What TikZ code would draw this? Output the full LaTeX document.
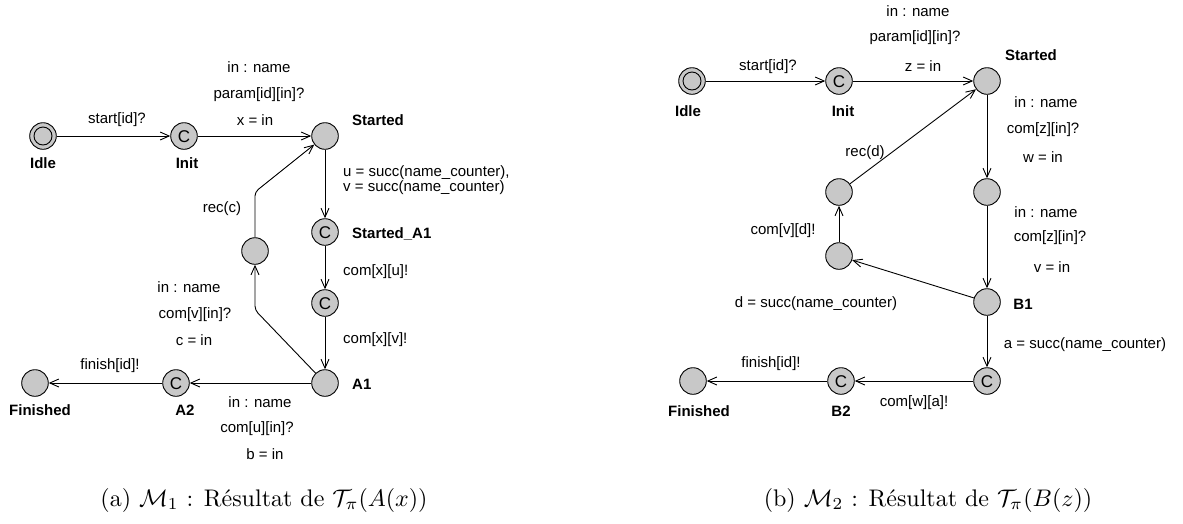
\documentclass[tikz,border=0pt]{standalone}
\usepackage{fontspec}
\newfontfamily\labfont{Liberation Sans}
\usetikzlibrary{arrows.meta}
\definecolor{stategray}{RGB}{200,200,200}
\tikzset{
  st/.style={circle, draw, line width=0.9pt, fill=stategray, minimum size=26.6pt, inner sep=0pt},
  comm/.style={st, font=\labfont\fontsize{17}{17}\selectfont, text height=12pt, text depth=0pt},
  lab/.style={font=\labfont\fontsize{15}{15}\selectfont, inner sep=0pt},
  blab/.style={font=\labfont\bfseries\fontsize{15}{15}\selectfont, inner sep=0pt},
  conn/.style={line width=0.9pt, -{Straight Barb[length=9pt,width=8pt,line width=0.9pt]}},
  captext/.style={scale=2.4, inner sep=0pt}
}
\begin{document}
\begin{tikzpicture}[x=1pt,y=-1pt]
\useasboundingbox (0,0) rectangle (1183,523);
% ---------- (a) ----------
\node[st] (idleA) at (43,136) {};
\draw[line width=0.9pt] (idleA.center) circle (9pt);
\node[comm] (initA) at (184,136) {C};
\node[st] (startedA) at (325,136) {};
\node[comm] (sa1) at (325,232) {C};
\node[comm] (c2) at (325,303) {C};
\node[st] (a1) at (325,383) {};
\node[st] (recA) at (255,251) {};
\node[comm] (a2) at (176,383) {C};
\node[st] (finA) at (35,383) {};
\coordinate (ka) at (255,310);
\coordinate (kb) at (255,192);

\draw[conn] (idleA) -- (initA);
\draw[conn] (initA) -- (startedA);
\draw[conn] (startedA) -- (sa1);
\draw[conn] (sa1) -- (c2);
\draw[conn] (c2) -- (a1);
\draw[conn] (a1) -- (a2);
\draw[conn] (a2) -- (finA);
\draw[conn, rounded corners=4pt] (a1) -- (ka) -- (recA);
\draw[conn, rounded corners=4pt] (recA) -- (kb) -- (startedA);

\node[blab] (lIdleA) at (43,163) {Idle};
\node[blab] (lInitA) at (187,163) {Init};
\node[blab, anchor=west] (lStartedA) at (352,120) {Started};
\node[blab, anchor=west] (lSA1) at (352,234) {Started\_A1};
\node[blab, anchor=west] (lA1) at (352,384) {A1};
\node[blab] (lA2) at (185,410) {A2};
\node[blab] (lFinA) at (40,410) {Finished};

\node[lab] (e1) at (117,120) {start[id]?};
\node[lab] (e2a) at (259,67) {in : name};
\node[lab] (e2b) at (259,95) {param[id][in]?};
\node[lab] (e2c) at (255,120) {x = in};
\node[lab, anchor=west, align=left, font=\labfont\fontsize{15}{13}\selectfont] (e3) at (343,180) {u = succ(name\_counter),\\v = succ(name\_counter)};
\node[lab] (e4) at (222,209) {rec(c)};
\node[lab, anchor=west] (e5) at (343,272) {com[x][u]!};
\node[lab, anchor=west] (e6) at (343,340) {com[x][v]!};
\node[lab] (e7a) at (189,287) {in : name};
\node[lab] (e7b) at (195,315) {com[v][in]?};
\node[lab] (e7c) at (194,340) {c = in};
\node[lab] (e8) at (110,366) {finish[id]!};
\node[lab] (e9a) at (260,402) {in : name};
\node[lab] (e9b) at (257,429) {com[u][in]?};
\node[lab] (e9c) at (265,454) {b = in};

% ---------- (b) ----------
\node[st] (idleB) at (692,81) {};
\draw[line width=0.9pt] (idleB.center) circle (9pt);
\node[comm] (initB) at (839,81) {C};
\node[st] (startedB) at (987,81) {};
\node[st] (n2) at (987,192) {};
\node[st] (b1) at (987,302) {};
\node[comm] (c3) at (987,381) {C};
\node[comm] (b2) at (841,381) {C};
\node[st] (finB) at (693,381) {};
\node[st] (recB) at (839,192) {};
\node[st] (lowB) at (839,256) {};

\draw[conn] (idleB) -- (initB);
\draw[conn] (initB) -- (startedB);
\draw[conn] (startedB) -- (n2);
\draw[conn] (n2) -- (b1);
\draw[conn] (b1) -- (c3);
\draw[conn] (c3) -- (b2);
\draw[conn] (b2) -- (finB);
\draw[conn] (b1) -- (lowB);
\draw[conn] (lowB) -- (recB);
\draw[conn] (recB) -- (startedB);

\node[blab] (lIdleB) at (688,111) {Idle};
\node[blab] (lInitB) at (843,111) {Init};
\node[blab, anchor=west] (lStartedB) at (1005,55) {Started};
\node[blab] (lB1) at (1023,304) {B1};
\node[blab] (lB2) at (841,411) {B2};
\node[blab] (lFinB) at (699,411) {Finished};

\node[lab] (f1) at (768,67) {start[id]?};
\node[lab] (f2a) at (918,11) {in : name};
\node[lab] (f2b) at (915,38) {param[id][in]?};
\node[lab] (f2c) at (923,66) {z = in};
\node[lab] (f3a) at (1046,102) {in : name};
\node[lab] (f3b) at (1043,130) {com[z][in]?};
\node[lab] (f3c) at (1043,157) {w = in};
\node[lab] (f4a) at (1046,212) {in : name};
\node[lab] (f4b) at (1050,238) {com[z][in]?};
\node[lab] (f4c) at (1052,267) {v = in};
\node[lab] (f5) at (865,153) {rec(d)};
\node[lab] (f6) at (783,231) {com[v][d]!};
\node[lab] (f7) at (816,304) {d = succ(name\_counter)};
\node[lab] (f8) at (1085,345) {a = succ(name\_counter)};
\node[lab] (f9) at (771,364) {finish[id]!};
\node[lab] (f10) at (914,403) {com[w][a]!};

% ---------- captions ----------
\node[captext] (capA) at (264,500) {(a) $\mathcal{M}_1$ : Résultat de $\mathcal{T}_\pi(A(x))$};
\node[captext] (capB) at (928,500) {(b) $\mathcal{M}_2$ : Résultat de $\mathcal{T}_\pi(B(z))$};
\end{tikzpicture}
\end{document}
